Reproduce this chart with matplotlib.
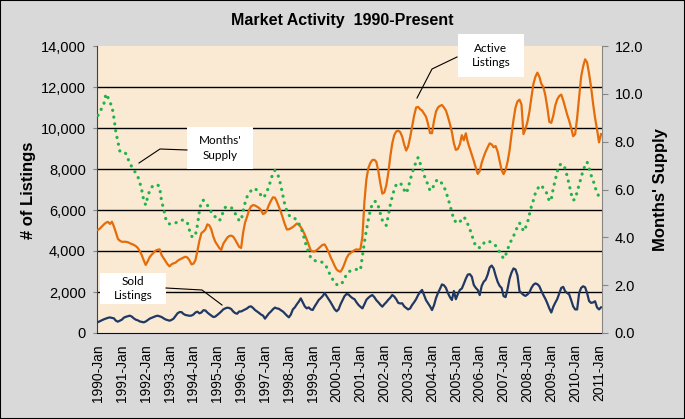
import matplotlib
matplotlib.use("Agg")
import matplotlib.pyplot as plt
from matplotlib.patches import Rectangle
from matplotlib.lines import Line2D
from matplotlib.ticker import FuncFormatter

# ---------------- data ----------------
years = list(range(1990, 2012))
month_names = ["Jan", "Feb", "Mar", "Apr", "May", "Jun",
               "Jul", "Aug", "Sep", "Oct", "Nov", "Dec"]

active_listings = [
    5030, 5100, 5200, 5300, 5380, 5420, 5320, 5430, 5200, 4900, 4600, 4500,   # 1990
    4450, 4450, 4450, 4430, 4380, 4340, 4300, 4240, 4150, 4000, 3800, 3550,   # 1991
    3320, 3500, 3700, 3820, 3920, 4020, 4060, 4080, 3800, 3650, 3500, 3350,   # 1992
    3250, 3350, 3400, 3430, 3520, 3580, 3630, 3680, 3720, 3680, 3550, 3350,   # 1993
    3380, 3550, 4000, 4500, 4870, 4950, 5050, 5300, 5250, 5050, 4700, 4450,   # 1994
    4300, 4150, 4050, 4350, 4500, 4650, 4730, 4750, 4700, 4550, 4370, 4200,   # 1995
    4150, 4900, 5400, 5680, 6000, 6180, 6240, 6220, 6160, 6100, 6000, 5800,   # 1996
    5850, 6000, 6250, 6450, 6620, 6600, 6400, 6150, 5900, 5600, 5300, 5050,   # 1997
    5060, 5110, 5170, 5250, 5340, 5280, 5170, 5000, 4800, 4560, 4300, 4030,   # 1998
    3980, 3990, 4040, 4130, 4220, 4300, 4320, 4150, 3950, 3700, 3500, 3280,   # 1999
    3100, 3020, 2990, 3150, 3380, 3650, 3820, 3900, 3970, 4040, 4080, 4060,   # 2000
    4100, 4700, 6400, 7500, 8050, 8300, 8440, 8450, 8350, 7900, 7300, 6800,   # 2001
    6850, 7200, 7800, 8600, 9250, 9650, 9830, 9870, 9800, 9580, 9200, 8900,   # 2002
    9100, 9550, 10065, 10600, 11000, 11030, 10920, 10850, 10700, 10550, 10200, 9750,  # 2003
    9750, 10350, 10800, 11000, 11080, 11120, 11000, 10850, 10550, 10200, 9800, 9250,  # 2004
    8930, 8980, 9200, 9650, 9400, 9740, 9300, 9000, 8700, 8400, 8065, 7760,   # 2005
    7900, 8300, 8600, 8850, 9060, 9250, 9200, 9060, 9120, 8850, 8400, 7950,   # 2006
    7750, 7950, 8350, 8900, 9700, 10400, 11000, 11300, 11380, 11150, 9700, 9950,      # 2007
    10300, 10800, 11500, 12150, 12500, 12700, 12500, 12150, 12000, 11600, 11000, 10300,  # 2008
    10250, 10600, 11100, 11400, 11560, 11630, 11350, 11000, 10650, 10350, 10000, 9600,   # 2009
    9700, 10500, 11500, 12500, 13000, 13350, 13200, 12650, 12000, 11200, 10500, 9935,    # 2010
    9300, 9700,                                                                # 2011
]

months_supply = [
    9.1, 9.2, 9.45, 9.6, 10.0, 9.85, 9.63, 9.5, 9.0, 8.4, 8.0, 7.6,          # 1990
    7.58, 7.58, 7.5, 7.3, 7.1, 6.95, 6.8, 6.7, 6.55, 6.3, 5.98, 5.55,       # 1991
    5.35, 5.7, 5.95, 6.1, 6.17, 6.19, 6.2, 6.1, 5.5, 5.2, 4.8, 4.6,         # 1992
    4.56, 4.56, 4.58, 4.6, 4.65, 4.7, 4.72, 4.72, 4.7, 4.6, 4.3, 4.05,      # 1993
    4.0, 4.1, 4.5, 5.1, 5.5, 5.55, 5.48, 5.35, 5.2, 5.05, 4.9, 4.86,        # 1994
    4.75, 4.7, 4.8, 5.1, 5.25, 5.28, 5.28, 5.25, 5.15, 5.0, 4.85, 4.7,      # 1995
    4.7, 5.1, 5.45, 5.7, 5.85, 5.95, 6.05, 6.02, 5.98, 5.9, 5.75, 5.65,     # 1996
    5.75, 5.91, 6.15, 6.4, 6.7, 6.8, 6.7, 6.5, 6.15, 5.75, 5.35, 5.1,       # 1997
    4.93, 4.85, 4.79, 4.79, 4.7, 4.58, 4.4, 4.2, 3.85, 3.6, 3.35, 3.15,     # 1998
    3.05, 3.03, 3.0, 3.0, 2.98, 2.95, 2.88, 2.75, 2.56, 2.4, 2.25, 2.1,     # 1999
    2.03, 2.0, 2.01, 2.12, 2.27, 2.45, 2.55, 2.6, 2.63, 2.64, 2.66, 2.64,   # 2000
    2.63, 3.2, 3.8, 4.3, 4.75, 5.14, 5.4, 5.5, 5.5, 5.3, 5.0, 4.72,         # 2001
    4.55, 4.5, 4.9, 5.35, 5.7, 6.0, 6.2, 6.28, 6.25, 6.19, 5.98, 5.84,      # 2002
    6.05, 6.4, 6.67, 6.95, 7.15, 7.34, 7.1, 6.9, 6.6, 6.4, 6.19, 5.95,      # 2003
    6.0, 6.19, 6.35, 6.42, 6.35, 6.25, 6.13, 5.9, 5.65, 5.35, 5.05, 4.72,   # 2004
    4.65, 4.58, 4.65, 4.75, 4.85, 4.75, 4.55, 4.35, 4.1, 3.85, 3.62, 3.57,  # 2005
    3.57, 3.6, 3.75, 3.83, 3.85, 3.82, 3.78, 3.72, 3.65, 3.55, 3.38, 3.25,  # 2006
    3.11, 3.25, 3.5, 3.7, 3.9, 4.05, 4.25, 4.45, 4.6, 4.48, 4.25, 4.4,      # 2007
    4.61, 4.95, 5.3, 5.55, 5.85, 6.01, 6.15, 6.18, 6.05, 5.95, 5.8, 5.5,    # 2008
    5.6, 6.05, 6.4, 6.75, 7.0, 7.08, 7.0, 6.88, 6.55, 6.2, 5.82, 5.55,      # 2009
    5.6, 5.9, 6.2, 6.5, 6.8, 7.0, 7.15, 6.9, 6.6, 6.4, 6.1, 5.87,           # 2010
    5.7, 5.75,                                                               # 2011
]

sold_listings = [
    530, 580, 625, 670, 705, 740, 760, 740, 715, 600, 553, 600,              # 1990
    650, 748, 790, 820, 845, 800, 715, 650, 620, 565, 540, 520,              # 1991
    560, 630, 700, 740, 780, 820, 845, 810, 780, 715, 660, 630,              # 1992
    600, 640, 700, 830, 960, 1020, 1020, 930, 880, 860, 840, 850,            # 1993
    900, 1000, 1040, 960, 1000, 1110, 1100, 1000, 920, 850, 780, 800,        # 1994
    880, 960, 1050, 1150, 1200, 1236, 1220, 1170, 1050, 970, 940, 1050,      # 1995
    1050, 1100, 1150, 1200, 1280, 1300, 1220, 1120, 1050, 980, 900, 850,     # 1996
    700, 830, 960, 1050, 1160, 1240, 1200, 1180, 1110, 1050, 950, 850,       # 1997
    764, 900, 1150, 1250, 1400, 1528, 1690, 1500, 1300, 1200, 1250, 1150,    # 1998
    1122, 1300, 1450, 1610, 1700, 1800, 1950, 1800, 1650, 1500, 1330, 1160,  # 1999
    1060, 1150, 1400, 1600, 1800, 1900, 1880, 1780, 1700, 1650, 1500, 1370,  # 2000
    1280, 1200, 1400, 1620, 1720, 1800, 1850, 1750, 1600, 1500, 1380, 1285,  # 2001
    1400, 1500, 1620, 1720, 1854, 1780, 1650, 1470, 1440, 1450, 1300, 1220,  # 2002
    1150, 1200, 1370, 1500, 1650, 1850, 2000, 2100, 1850, 1600, 1450, 1300,  # 2003
    1120, 1350, 1700, 1950, 2150, 2370, 2330, 2200, 1950, 1750, 1610, 2050,  # 2004
    1650, 1900, 2100, 2170, 2400, 2650, 2850, 2870, 2750, 2350, 2200, 2100,  # 2005
    1850, 2300, 2500, 2600, 2850, 3200, 3290, 3150, 2800, 2500, 2300, 2200,  # 2006
    1800, 1750, 2150, 2650, 2950, 3150, 3100, 2800, 2050, 1950, 1860, 1810,  # 2007
    1880, 1980, 2200, 2350, 2420, 2380, 2280, 2050, 1850, 1670, 1450, 1200,  # 2008
    1000, 1280, 1480, 1660, 1930, 2200, 2250, 2030, 1950, 1880, 1600, 1300,  # 2009
    1150, 1150, 1950, 2200, 2280, 2230, 1950, 1560, 1470, 1490, 1550, 1250,  # 2010
    1150, 1250,                                                               # 2011
]

categories = [f"{y}-{m}" for y in years for m in month_names][:len(active_listings)]
left_ticks = [0, 2000, 4000, 6000, 8000, 10000, 12000, 14000]
right_ticks = [0.0, 2.0, 4.0, 6.0, 8.0, 10.0, 12.0]

title = "Market Activity  1990-Present"
left_label = "# of Listings"
right_label = "Months' Supply"

# ---------------- figure ----------------
W, H = 685, 419
fig = plt.figure(figsize=(W / 100, H / 100), dpi=100, facecolor="#D9D9D9")


def fxy(px, py):
    return (px / W, 1 - py / H)


ax = fig.add_axes([97 / W, 1 - 333 / H, 505 / W, 287 / H])
ax.set_facecolor("#FBEAD3")
ax2 = ax.twinx()

x = list(range(len(categories)))

ax.plot(x, active_listings, color="#E46C0A", lw=1.6, zorder=3, solid_joinstyle="round")
ax.plot(x, sold_listings, color="#1F3864", lw=1.6, zorder=3, solid_joinstyle="round")
ax2.plot(x, months_supply, color="#22B24C", lw=2.3, linestyle=(0, (0.05, 2.1)),
         dash_capstyle="round", zorder=3)

ax.set_xlim(-0.5, len(categories) - 0.5)
ax.set_ylim(0, 14000)
ax2.set_ylim(0, 12)

ax.set_yticks(left_ticks)
ax.yaxis.set_major_formatter(FuncFormatter(lambda v, p: f"{int(v):,}"))
ax2.set_yticks(right_ticks)
ax2.yaxis.set_major_formatter(FuncFormatter(lambda v, p: f"{v:.1f}"))

jan_idx = [i for i, c in enumerate(categories) if c.endswith("-Jan")]
ax.set_xticks(jan_idx)
ax.set_xticklabels([categories[i] for i in jan_idx], rotation=90,
                   fontfamily="Liberation Sans", fontsize=10)

ax.yaxis.grid(True, color="black", lw=1.0)
ax.set_axisbelow(True)
gl = ax.yaxis.get_gridlines()
gl[0].set_visible(False)
gl[-1].set_visible(False)

for a in (ax, ax2):
    a.spines["top"].set_visible(False)
ax.spines["right"].set_visible(False)
ax2.spines["left"].set_visible(False)
ax2.spines["bottom"].set_visible(False)
ax.spines["left"].set_color("#404040")
ax.spines["bottom"].set_color("#000080")
ax2.spines["right"].set_color("#868686")

ax.tick_params(axis="x", length=0, pad=8, colors="black")
ax.tick_params(axis="y", length=3, color="#868686", pad=5, labelsize=10.5)
ax2.tick_params(axis="y", length=4, color="#868686", pad=5, labelsize=10.5)
for lab in ax.get_yticklabels() + ax2.get_yticklabels():
    lab.set_fontfamily("Liberation Sans")

fig.text(*fxy(342, 21), title, ha="center", va="center", fontsize=11.5,
         fontweight="bold", fontfamily="Liberation Sans")
fig.text(*fxy(28, 190), left_label, ha="center", va="center", rotation=90,
         fontsize=12, fontweight="bold", fontfamily="Liberation Sans")
fig.text(*fxy(660, 190), right_label, ha="center", va="center", rotation=90,
         fontsize=12, fontweight="bold", fontfamily="Liberation Sans")

# annotation boxes with leader lines
boxes = [
    ((458, 34, 524, 77), "Active\nListings", [(417, 98), (432, 69), (457, 57)]),
    ((187, 127, 253, 169), "Months'\nSupply", [(139, 163), (160, 149), (187, 150)]),
    ((100, 273, 166, 304), "Sold\nListings", [(166, 288), (202, 290), (222, 305)]),
]
for (x0, y0, x1, y1), txt, pts in boxes:
    fig.patches.append(Rectangle(fxy(x0, y1), (x1 - x0) / W, (y1 - y0) / H,
                                 transform=fig.transFigure, facecolor="white",
                                 edgecolor="none", zorder=5))
    fig.text(*fxy((x0 + x1) / 2, (y0 + y1) / 2), txt, ha="center", va="center",
             fontsize=8.5, fontfamily="Lato", linespacing=1.35, zorder=6)
    xs = [p[0] / W for p in pts]
    ys = [1 - p[1] / H for p in pts]
    fig.lines.append(Line2D(xs, ys, transform=fig.transFigure, color="black",
                            lw=0.8, zorder=6))

fig.patches.append(Rectangle((0, 0), 1, 1, transform=fig.transFigure, fill=False,
                             edgecolor="black", lw=1.5, zorder=10))

fig.savefig("out.png", dpi=100, facecolor=fig.get_facecolor())
